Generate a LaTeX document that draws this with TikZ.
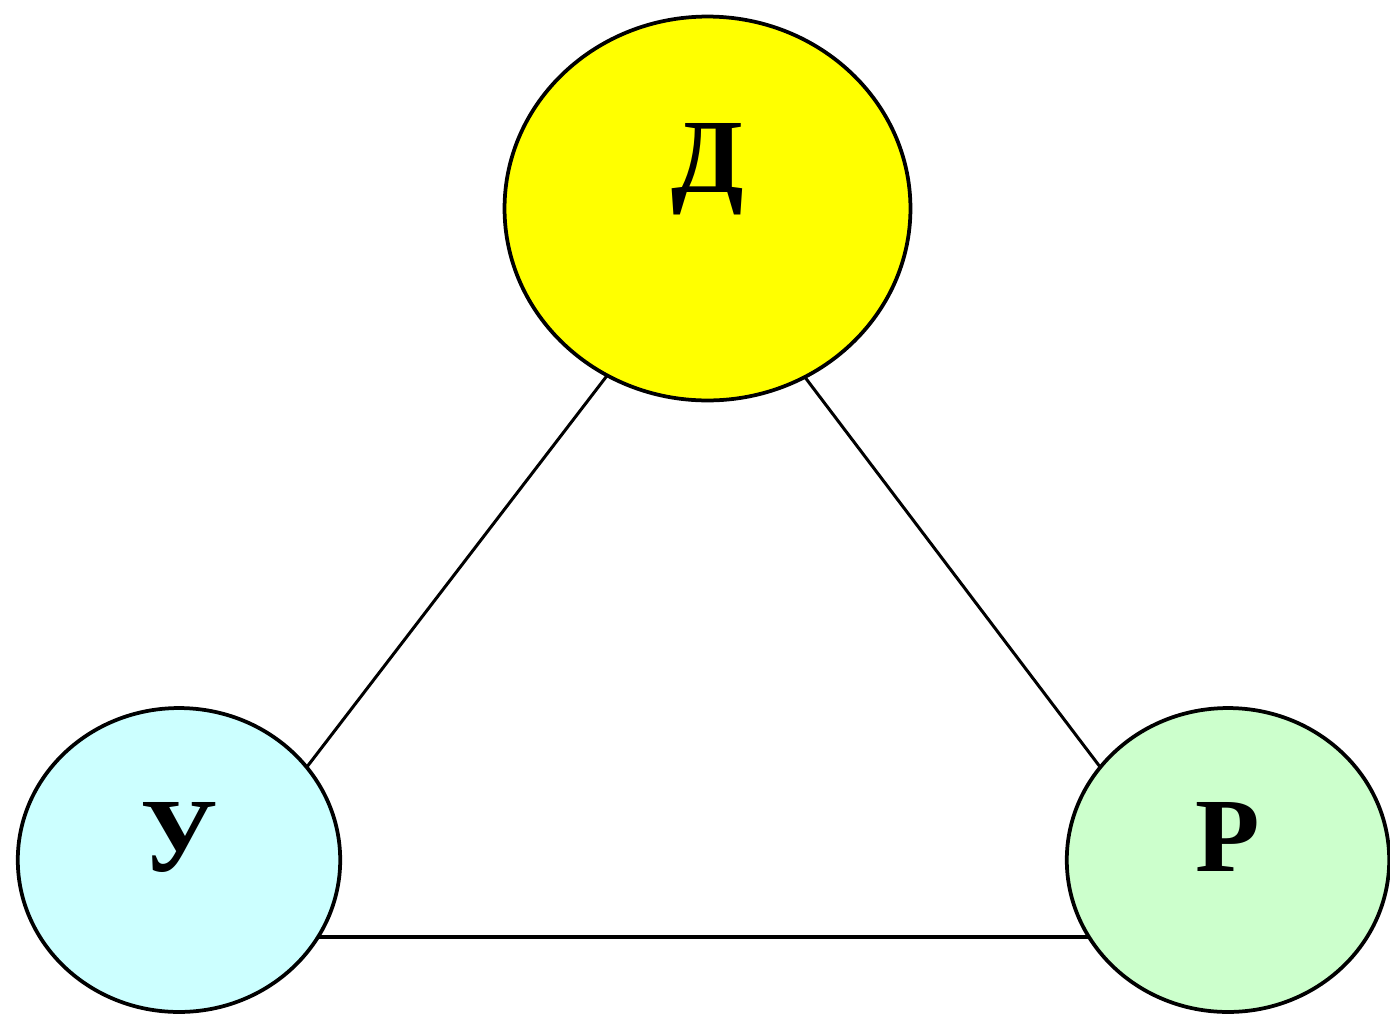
\documentclass[tikz,border=0pt]{standalone}
\usepackage{fontspec}
\setmainfont{Liberation Serif}
\usetikzlibrary{shapes.geometric}
\definecolor{dyellow}{RGB}{255,255,0}
\definecolor{ucyan}{RGB}{204,255,255}
\definecolor{rgreen}{RGB}{204,255,204}
\tikzset{
  blob/.style={ellipse, draw=black, line width=0.075cm, inner sep=0pt, outer sep=0pt},
  small/.style={blob, minimum width=6.45cm, minimum height=6.08cm},
  letter/.style={font=\fontsize{60}{60}\selectfont\bfseries, inner sep=0pt},
  link/.style={line width=0.06cm, draw=black},
  base/.style={line width=0.09cm, draw=black}
}
\begin{document}
\begin{tikzpicture}[x=0.02cm, y=-0.02cm]
\useasboundingbox (0,0) rectangle (1390,1015);
\node[blob, fill=dyellow, minimum width=8.12cm, minimum height=7.68cm,
      label={[letter, yshift=0.78cm]center:Д}] (d) at (707.5,208.5) {};
\node[small, fill=ucyan, label={[letter, yshift=0.46cm]center:У}] (u) at (179,860) {};
\node[small, fill=rgreen, label={[letter, yshift=0.46cm]center:Р}] (r) at (1228,860) {};
\draw[link] (d.239) -- (u.36);
\draw[link] (d.300) -- (r.144);
\draw[base] (u.331) -- (r.209);
\end{tikzpicture}
\end{document}
